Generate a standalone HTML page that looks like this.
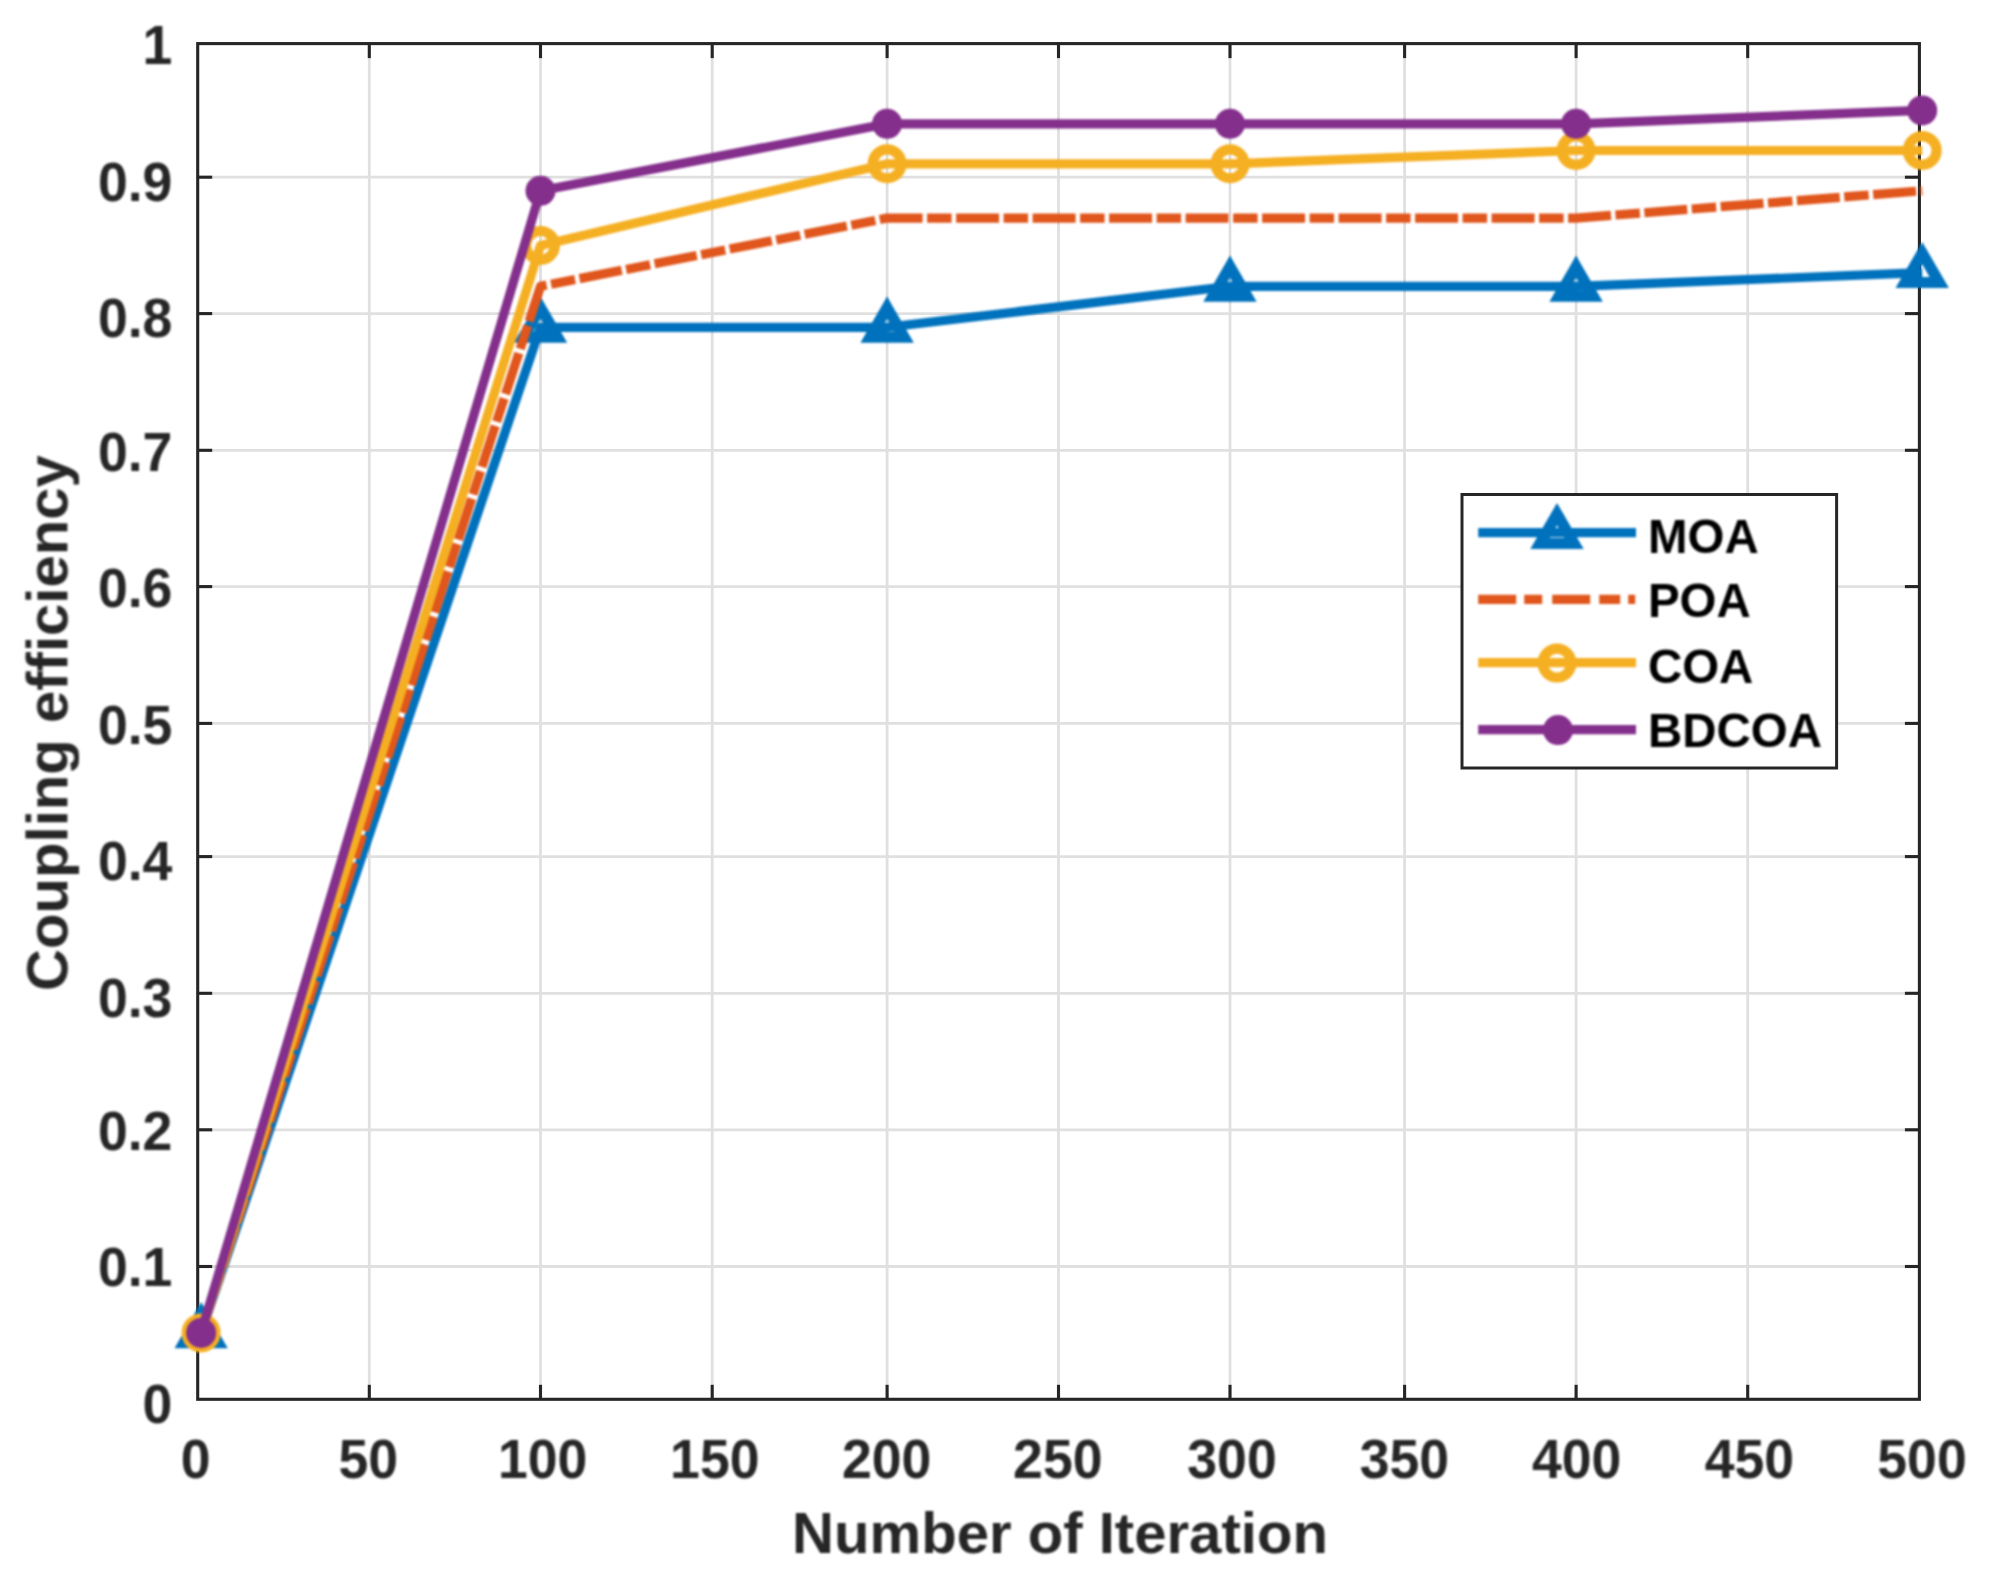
<!DOCTYPE html>
<html lang="en"><head><meta charset="utf-8">
<title>Coupling efficiency vs. number of iteration</title>
<style>
html,body{margin:0;padding:0;background:#fff;}
body{width:1989px;height:1584px;overflow:hidden;}
svg{display:block;}
#chart{width:1989px;height:1584px;overflow:hidden;}
.soft{filter:blur(0.8px);}
text{font-family:'Liberation Sans', Arial, Helvetica, sans-serif;font-weight:bold;fill:#262626;}
.tk{font-size:53.6px;}
.lb{font-size:58.1px;}
.lg{font-size:47.5px;fill:#000;}
</style></head><body><div id="chart">
<svg width="1989" height="1584" viewBox="0 0 1989 1584">
<rect x="0" y="0" width="1989" height="1584" fill="#ffffff"/>
<g stroke="#e0e0e0" stroke-width="2.8" fill="none">
<line x1="369.3" y1="43.6" x2="369.3" y2="1399.3"/>
<line x1="540.5" y1="43.6" x2="540.5" y2="1399.3"/>
<line x1="712.2" y1="43.6" x2="712.2" y2="1399.3"/>
<line x1="887.1" y1="43.6" x2="887.1" y2="1399.3"/>
<line x1="1058.5" y1="43.6" x2="1058.5" y2="1399.3"/>
<line x1="1230.0" y1="43.6" x2="1230.0" y2="1399.3"/>
<line x1="1404.6" y1="43.6" x2="1404.6" y2="1399.3"/>
<line x1="1576.1" y1="43.6" x2="1576.1" y2="1399.3"/>
<line x1="1747.7" y1="43.6" x2="1747.7" y2="1399.3"/>
<line x1="197.7" y1="1266.5" x2="1919.4" y2="1266.5"/>
<line x1="197.7" y1="1129.8" x2="1919.4" y2="1129.8"/>
<line x1="197.7" y1="993.3" x2="1919.4" y2="993.3"/>
<line x1="197.7" y1="856.6" x2="1919.4" y2="856.6"/>
<line x1="197.7" y1="723.4" x2="1919.4" y2="723.4"/>
<line x1="197.7" y1="586.6" x2="1919.4" y2="586.6"/>
<line x1="197.7" y1="450.3" x2="1919.4" y2="450.3"/>
<line x1="197.7" y1="313.6" x2="1919.4" y2="313.6"/>
<line x1="197.7" y1="177.2" x2="1919.4" y2="177.2"/>
</g>
<g stroke="#262626" stroke-width="3.1" fill="none" stroke-linecap="butt">
<rect x="197.7" y="43.6" width="1721.7" height="1355.7"/>
<line x1="369.3" y1="1399.3" x2="369.3" y2="1384.8"/>
<line x1="369.3" y1="43.6" x2="369.3" y2="58.1"/>
<line x1="540.5" y1="1399.3" x2="540.5" y2="1384.8"/>
<line x1="540.5" y1="43.6" x2="540.5" y2="58.1"/>
<line x1="712.2" y1="1399.3" x2="712.2" y2="1384.8"/>
<line x1="712.2" y1="43.6" x2="712.2" y2="58.1"/>
<line x1="887.1" y1="1399.3" x2="887.1" y2="1384.8"/>
<line x1="887.1" y1="43.6" x2="887.1" y2="58.1"/>
<line x1="1058.5" y1="1399.3" x2="1058.5" y2="1384.8"/>
<line x1="1058.5" y1="43.6" x2="1058.5" y2="58.1"/>
<line x1="1230.0" y1="1399.3" x2="1230.0" y2="1384.8"/>
<line x1="1230.0" y1="43.6" x2="1230.0" y2="58.1"/>
<line x1="1404.6" y1="1399.3" x2="1404.6" y2="1384.8"/>
<line x1="1404.6" y1="43.6" x2="1404.6" y2="58.1"/>
<line x1="1576.1" y1="1399.3" x2="1576.1" y2="1384.8"/>
<line x1="1576.1" y1="43.6" x2="1576.1" y2="58.1"/>
<line x1="1747.7" y1="1399.3" x2="1747.7" y2="1384.8"/>
<line x1="1747.7" y1="43.6" x2="1747.7" y2="58.1"/>
<line x1="197.7" y1="1266.5" x2="212.2" y2="1266.5"/>
<line x1="1919.4" y1="1266.5" x2="1904.9" y2="1266.5"/>
<line x1="197.7" y1="1129.8" x2="212.2" y2="1129.8"/>
<line x1="1919.4" y1="1129.8" x2="1904.9" y2="1129.8"/>
<line x1="197.7" y1="993.3" x2="212.2" y2="993.3"/>
<line x1="1919.4" y1="993.3" x2="1904.9" y2="993.3"/>
<line x1="197.7" y1="856.6" x2="212.2" y2="856.6"/>
<line x1="1919.4" y1="856.6" x2="1904.9" y2="856.6"/>
<line x1="197.7" y1="723.4" x2="212.2" y2="723.4"/>
<line x1="1919.4" y1="723.4" x2="1904.9" y2="723.4"/>
<line x1="197.7" y1="586.6" x2="212.2" y2="586.6"/>
<line x1="1919.4" y1="586.6" x2="1904.9" y2="586.6"/>
<line x1="197.7" y1="450.3" x2="212.2" y2="450.3"/>
<line x1="1919.4" y1="450.3" x2="1904.9" y2="450.3"/>
<line x1="197.7" y1="313.6" x2="212.2" y2="313.6"/>
<line x1="1919.4" y1="313.6" x2="1904.9" y2="313.6"/>
<line x1="197.7" y1="177.2" x2="212.2" y2="177.2"/>
<line x1="1919.4" y1="177.2" x2="1904.9" y2="177.2"/>
</g>
<g class="soft">
<g stroke="#0072bd" fill="none" stroke-width="9.2" stroke-linejoin="round">
<polyline points="201.1,1332.9 540.5,327.3 887.1,327.3 1230.0,286.3 1576.1,286.3 1922.2,272.7"/>
<polygon points="201.1,1313.3 218.1,1342.7 184.2,1342.7" stroke-width="11.2" stroke-linejoin="miter" stroke-miterlimit="10"/>
<polygon points="540.5,307.7 557.5,337.1 523.5,337.1" stroke-width="11.2" stroke-linejoin="miter" stroke-miterlimit="10"/>
<polygon points="887.1,307.7 904.1,337.1 870.1,337.1" stroke-width="11.2" stroke-linejoin="miter" stroke-miterlimit="10"/>
<polygon points="1230.0,266.7 1247.0,296.1 1213.0,296.1" stroke-width="11.2" stroke-linejoin="miter" stroke-miterlimit="10"/>
<polygon points="1576.1,266.7 1593.1,296.1 1559.1,296.1" stroke-width="11.2" stroke-linejoin="miter" stroke-miterlimit="10"/>
<polygon points="1922.2,253.1 1939.2,282.5 1905.2,282.5" stroke-width="11.2" stroke-linejoin="miter" stroke-miterlimit="10"/>
</g>
<polyline points="201.1,1332.9 540.5,286.3 887.1,218.1 1230.0,218.1 1576.1,218.1 1922.2,190.8" stroke="#e0561c" fill="none" stroke-width="9.2" stroke-dasharray="43 4.5 24.5 4.5" stroke-dashoffset="7.5" stroke-linejoin="round"/>
<g stroke="#f5af22" fill="none" stroke-width="9.2" stroke-linejoin="round">
<polyline points="201.1,1332.9 540.5,245.4 887.1,163.8 1230.0,163.8 1576.1,150.5 1922.2,150.5"/>
<circle cx="201.1" cy="1332.9" r="14.4" stroke-width="10.2"/>
<circle cx="540.5" cy="245.4" r="14.4" stroke-width="10.2"/>
<circle cx="887.1" cy="163.8" r="14.4" stroke-width="10.2"/>
<circle cx="1230.0" cy="163.8" r="14.4" stroke-width="10.2"/>
<circle cx="1576.1" cy="150.5" r="14.4" stroke-width="10.2"/>
<circle cx="1922.2" cy="150.5" r="14.4" stroke-width="10.2"/>
</g>
<g stroke="#842f8c" fill="none" stroke-width="9.2" stroke-linejoin="round">
<polyline points="201.1,1332.9 540.5,190.8 887.1,123.8 1230.0,123.8 1576.1,123.8 1922.2,110.4"/>
<circle cx="201.1" cy="1332.9" r="15" fill="#842f8c" stroke="none"/>
<circle cx="540.5" cy="190.8" r="15" fill="#842f8c" stroke="none"/>
<circle cx="887.1" cy="123.8" r="15" fill="#842f8c" stroke="none"/>
<circle cx="1230.0" cy="123.8" r="15" fill="#842f8c" stroke="none"/>
<circle cx="1576.1" cy="123.8" r="15" fill="#842f8c" stroke="none"/>
<circle cx="1922.2" cy="110.4" r="15" fill="#842f8c" stroke="none"/>
</g>
</g>
<g class="soft">
<text class="tk" transform="translate(172.4 1423.4) scale(1 1.03)" text-anchor="end">0</text>
<text class="tk" transform="translate(172.4 1286.4) scale(1 1.03)" text-anchor="end">0.1</text>
<text class="tk" transform="translate(172.4 1150.3) scale(1 1.03)" text-anchor="end">0.2</text>
<text class="tk" transform="translate(172.4 1016.9) scale(1 1.03)" text-anchor="end">0.3</text>
<text class="tk" transform="translate(172.4 879.7) scale(1 1.03)" text-anchor="end">0.4</text>
<text class="tk" transform="translate(172.4 743.9) scale(1 1.03)" text-anchor="end">0.5</text>
<text class="tk" transform="translate(172.4 607.2) scale(1 1.03)" text-anchor="end">0.6</text>
<text class="tk" transform="translate(172.4 470.8) scale(1 1.03)" text-anchor="end">0.7</text>
<text class="tk" transform="translate(172.4 337.2) scale(1 1.03)" text-anchor="end">0.8</text>
<text class="tk" transform="translate(172.4 200.8) scale(1 1.03)" text-anchor="end">0.9</text>
<text class="tk" transform="translate(172.4 64.2) scale(1 1.03)" text-anchor="end">1</text>
<text class="tk" transform="translate(195.6 1477.8) scale(1 1.03)" text-anchor="middle">0</text>
<text class="tk" transform="translate(368.3 1477.8) scale(1 1.03)" text-anchor="middle">50</text>
<text class="tk" transform="translate(542.6 1477.8) scale(1 1.03)" text-anchor="middle">100</text>
<text class="tk" transform="translate(714.8 1477.8) scale(1 1.03)" text-anchor="middle">150</text>
<text class="tk" transform="translate(886.7 1477.8) scale(1 1.03)" text-anchor="middle">200</text>
<text class="tk" transform="translate(1057.8 1477.8) scale(1 1.03)" text-anchor="middle">250</text>
<text class="tk" transform="translate(1232.0 1477.8) scale(1 1.03)" text-anchor="middle">300</text>
<text class="tk" transform="translate(1404.4 1477.8) scale(1 1.03)" text-anchor="middle">350</text>
<text class="tk" transform="translate(1576.6 1477.8) scale(1 1.03)" text-anchor="middle">400</text>
<text class="tk" transform="translate(1749.4 1477.8) scale(1 1.03)" text-anchor="middle">450</text>
<text class="tk" transform="translate(1922.0 1477.8) scale(1 1.03)" text-anchor="middle">500</text>
<text class="lb" x="1060" y="1553.3" text-anchor="middle">Number of Iteration</text>
<text class="lb" transform="translate(67.4 723) rotate(-90)" text-anchor="middle">Coupling efficiency</text>
</g>
<rect x="1462.0" y="494.5" width="374.6" height="273.5" fill="#ffffff" stroke="#262626" stroke-width="3"/>
<g class="soft">
<g stroke="#0072bd" fill="none" stroke-width="9.2">
<line x1="1478.2" y1="532.7" x2="1636.0" y2="532.7"/>
<polygon points="1557.0,514.1 1574.0,543.5 1540.0,543.5" stroke-width="11.2" stroke-linejoin="miter" stroke-miterlimit="10"/>
</g>
<text class="lg" transform="translate(1647.9 552.8) scale(1 1.025)" text-anchor="start">MOA</text>
<line x1="1478.2" y1="599.3" x2="1636.0" y2="599.3" stroke="#e0561c" stroke-width="9.2" stroke-dasharray="38 8 18 10 38 9 21 8 7 50"/>
<text class="lg" transform="translate(1647.9 616.8) scale(1 1.025)" text-anchor="start">POA</text>
<g stroke="#f5af22" fill="none" stroke-width="9.2">
<line x1="1478.2" y1="662.6" x2="1636.0" y2="662.6"/>
<circle cx="1557.0" cy="663.1" r="14.4" stroke-width="10.2"/>
</g>
<text class="lg" transform="translate(1647.9 683.0) scale(1 1.025)" text-anchor="start">COA</text>
<line x1="1478.2" y1="729.6" x2="1636.0" y2="729.6" stroke="#842f8c" stroke-width="9.2"/>
<circle cx="1558.0" cy="730.1" r="15" fill="#842f8c"/>
<text class="lg" transform="translate(1647.9 747.0) scale(1 1.025)" text-anchor="start">BDCOA</text>
</g>
</svg>
</div></body></html>
